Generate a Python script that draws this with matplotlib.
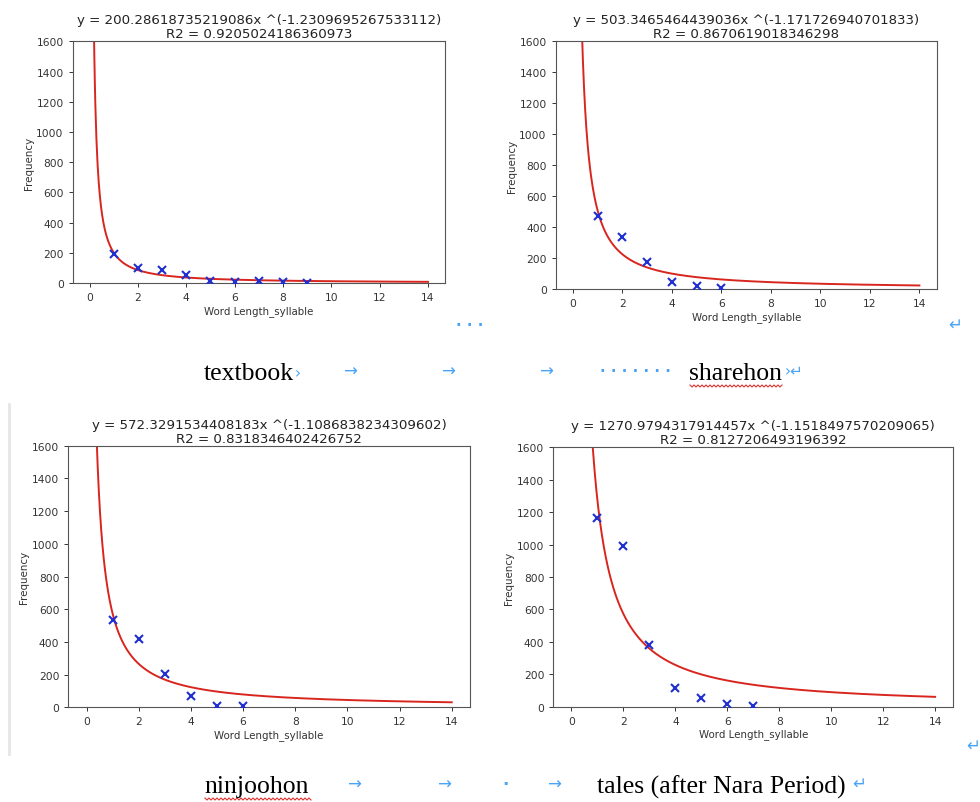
import numpy as np
import matplotlib
matplotlib.use("Agg")
import matplotlib.pyplot as plt
from matplotlib.lines import Line2D

# ---- data ----
names = ["textbook", "sharehon", "ninjoohon", "tales (after Nara Period)"]
coef_a = [200.28618735219086, 503.3465464439036, 572.3291534408183, 1270.9794317914457]
coef_b = [-1.2309695267533112, -1.171726940701833, -1.1086838234309602, -1.1518497570209065]
r2 = [0.9205024186360973, 0.8670619018346298, 0.8318346402426752, 0.8127206493196392]

x_textbook = [1, 2, 3, 4, 5, 6, 7, 8, 9]
y_textbook = [192, 97, 88, 53, 15, 8, 10, 5, 3]
x_sharehon = [1, 2, 3, 4, 5, 6]
y_sharehon = [474, 338, 172, 43, 17, 4]
x_ninjoohon = [1, 2, 3, 4, 5, 6]
y_ninjoohon = [532, 420, 202, 69, 10, 6]
x_tales = [1, 2, 3, 4, 5, 6, 7]
y_tales = [1164, 994, 383, 117, 51, 16, 6]

xs = [x_textbook, x_sharehon, x_ninjoohon, x_tales]
ys = [y_textbook, y_sharehon, y_ninjoohon, y_tales]

x_ticks = [0, 2, 4, 6, 8, 10, 12, 14]
y_ticks = [0, 200, 400, 600, 800, 1000, 1200, 1400, 1600]

W, H = 980, 803
fig = plt.figure(figsize=(9.8, 8.03), dpi=100)

def fr(l, t, r, b):
    return [l / W, 1 - b / H, (r - l) / W, (b - t) / H]

rects = [fr(72.7, 42.3, 445, 284), fr(555.7, 42.3, 936.7, 290),
         fr(68.3, 446.7, 470, 708.3), fr(553.3, 448.3, 953.3, 707.7)]

xc = np.linspace(0.05, 14, 600)
for i in range(4):
    ax = fig.add_axes(rects[i])
    ax.plot(xs[i], ys[i], 'x', color='#1f2fd0', markersize=6, mew=1.5, zorder=3)
    ax.plot(xc, coef_a[i] * xc ** coef_b[i], color='#d8261f', lw=1.4, zorder=2)
    ax.set_xlim(-0.7, 14.7)
    ax.set_ylim(0, 1600)
    ax.set_xticks(x_ticks)
    ax.set_yticks(y_ticks)
    ax.tick_params(labelsize=7.7, length=3, width=0.7, colors='#333333', labelcolor='#333333')
    for s in ax.spines.values():
        s.set_linewidth(0.8)
        s.set_color('#555555')
    ax.set_xlabel("Word Length_syllable", fontsize=7.4, color='#333333', labelpad=2)
    ax.set_ylabel("Frequency", fontsize=7.4, color='#333333', labelpad=2)
    ax.set_title(f"y = {coef_a[i]}x ^({coef_b[i]})\nR2 = {r2[i]}",
                 fontsize=9.6, color='#222222', pad=3, linespacing=1.1)

serif = ['Liberation Serif', 'DejaVu Serif']
blue = '#4aa3f5'

def cap(x, y, s, **kw):
    fig.text(x / W, 1 - y / H, s, ha='left', va='center', **kw)

# top captions
cap(204, 374, names[0], family=serif, fontsize=18.5, color='black')
cap(295, 374, "›", family='DejaVu Sans', fontsize=11, color=blue)
for px in (343, 441, 539):
    cap(px, 372, "→", family='DejaVu Sans', fontsize=12, color=blue)
cap(600, 372, "· · · · · · ·", family='DejaVu Sans', fontsize=11, color=blue, fontweight='bold')
cap(689, 374, names[1], family=serif, fontsize=18.5, color='black')
cap(785, 372, "›↵", family='DejaVu Sans', fontsize=11, color=blue)
cap(456, 325, "· · ·", family='DejaVu Sans', fontsize=11, color=blue, fontweight='bold')
cap(948, 325, "↵", family='DejaVu Sans', fontsize=12, color=blue)

# bottom captions
cap(204, 787, names[2], family=serif, fontsize=18.5, color='black')
for px in (347, 437, 547):
    cap(px, 785, "→", family='DejaVu Sans', fontsize=12, color=blue)
cap(502, 785, "·", family='DejaVu Sans', fontsize=12, color=blue, fontweight='bold')
cap(597, 787, names[3], family=serif, fontsize=18.5, color='black')
cap(852, 784, "↵", family='DejaVu Sans', fontsize=12, color=blue)
cap(966, 746, "↵", family='DejaVu Sans', fontsize=12, color=blue)

# red wavy underlines
def wavy(x0, x1, y):
    xx = np.arange(x0, x1 + 0.1, 2.0)
    yy = y + np.where(np.arange(len(xx)) % 2 == 0, 0, 2.0)
    fig.add_artist(Line2D(xx / W, 1 - yy / H, color='#e03030', lw=0.8))

wavy(690, 783, 386)
wavy(205, 312, 799)

# faint left border of lower-left picture
fig.add_artist(Line2D([9 / W, 9 / W], [1 - 405 / H, 1 - 755 / H], color='#e6e6e6', lw=2))

fig.savefig("out.png", dpi=100)
